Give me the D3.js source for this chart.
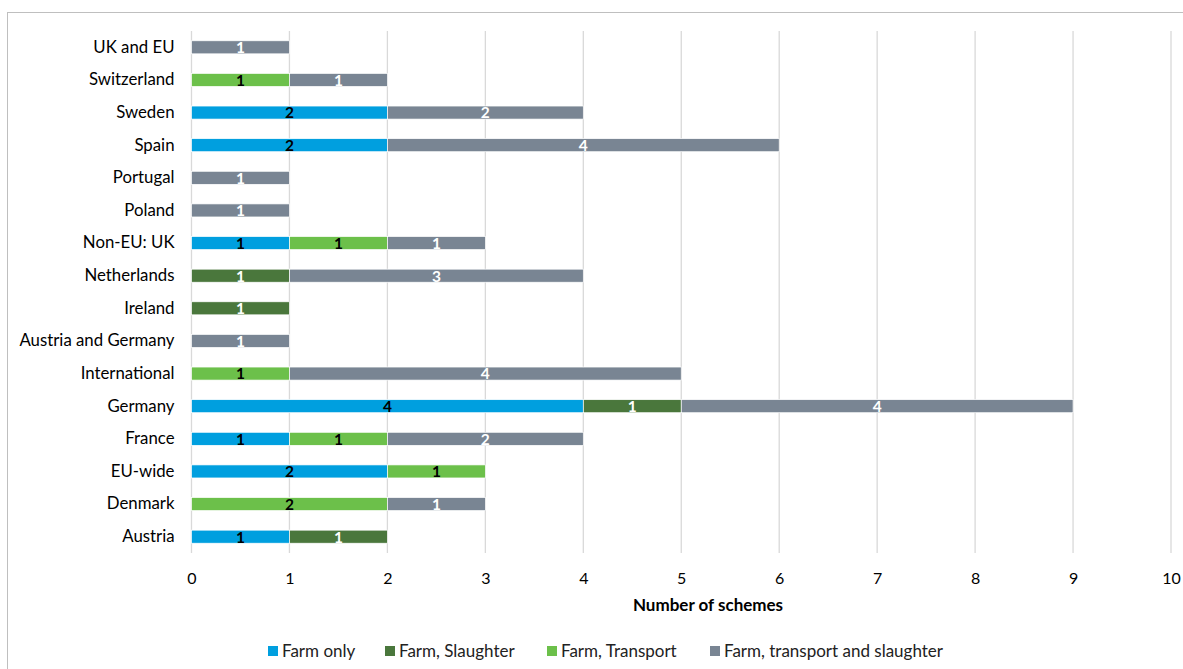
<!DOCTYPE html>
<html>
<head>
<meta charset="utf-8">
<script src="https://cdn.jsdelivr.net/npm/d3@7"></script>
<style>
  html, body { margin: 0; padding: 0; background: #fff; }
  svg { display: block; font-family: Lato, "Open Sans", sans-serif; }
</style>
</head>
<body>
<svg id="chart" width="1183" height="669"></svg>
<script>
// Categories, listed top to bottom as they appear on the chart
const countries = [
  "UK and EU", "Switzerland", "Sweden", "Spain", "Portugal", "Poland",
  "Non-EU: UK", "Netherlands", "Ireland", "Austria and Germany",
  "International", "Germany", "France", "EU-wide", "Denmark", "Austria"
];

const seriesNames = ["Farm only", "Farm, Slaughter", "Farm, Transport", "Farm, transport and slaughter"];

// Number of schemes per country for each series
const farmOnly        = [0, 0, 2, 2, 0, 0, 1, 0, 0, 0, 0, 4, 1, 2, 0, 1];
const farmSlaughter   = [0, 0, 0, 0, 0, 0, 0, 1, 1, 0, 0, 1, 0, 0, 0, 1];
const farmTransport   = [0, 1, 0, 0, 0, 0, 1, 0, 0, 0, 1, 0, 1, 1, 2, 0];
const farmTransSlaugh = [1, 1, 2, 4, 1, 1, 1, 3, 0, 1, 4, 4, 2, 0, 1, 0];

const xTicks = [0, 1, 2, 3, 4, 5, 6, 7, 8, 9, 10];

const colors = ["#009FDF", "#4A773C", "#6CC04A", "#798593"];
const labelColors = ["#000", "#fff", "#000", "#fff"];

const table = countries.map((c, i) => ({
  country: c,
  [seriesNames[0]]: farmOnly[i],
  [seriesNames[1]]: farmSlaughter[i],
  [seriesNames[2]]: farmTransport[i],
  [seriesNames[3]]: farmTransSlaugh[i]
}));

const svg = d3.select("#chart");

// outer chart frame
svg.append("rect")
  .attr("x", 7.5).attr("y", 12.5)
  .attr("width", 1190).attr("height", 680)
  .attr("fill", "none").attr("stroke", "#BFBFBF").attr("stroke-width", 1);

const plotLeft = 191.5, plotRight = 1171, plotTop = 31, plotBottom = 553;

const x = d3.scaleLinear().domain([0, 10]).range([plotLeft, plotRight]);
const y = d3.scaleBand().domain(countries).range([plotTop, plotBottom]).paddingInner(0.6).paddingOuter(0.3);

// vertical gridlines
svg.append("g")
  .selectAll("line")
  .data(xTicks)
  .join("line")
  .attr("x1", d => x(d)).attr("x2", d => x(d))
  .attr("y1", plotTop).attr("y2", plotBottom)
  .attr("stroke", "#D9D9D9").attr("stroke-width", 1.3);

// x axis tick labels
const xAxis = d3.axisBottom(x).tickValues(xTicks).tickSize(0).tickPadding(0);
const gx = svg.append("g").attr("transform", `translate(0, 578)`).call(xAxis);
gx.select(".domain").remove();
gx.selectAll("text")
  .attr("font-family", "Lato, sans-serif")
  .attr("font-size", 16).attr("fill", "#000")
  .attr("y", 0).attr("dy", "0.35em");

// y axis category labels
const yAxis = d3.axisLeft(y).tickSize(0).tickPadding(17);
const gy = svg.append("g").attr("transform", `translate(${plotLeft}, 0)`).call(yAxis);
gy.select(".domain").remove();
gy.selectAll("text")
  .attr("font-family", "Lato, sans-serif")
  .attr("font-size", 16.8).attr("fill", "#000");

// stacked bars
const stack = d3.stack().keys(seriesNames);
const stacked = stack(table);

const layers = svg.append("g")
  .selectAll("g")
  .data(stacked)
  .join("g")
  .attr("fill", (d, i) => colors[i]);

layers.selectAll("rect")
  .data(d => d.filter(s => s[1] - s[0] > 0))
  .join("rect")
  .attr("x", d => x(d[0]))
  .attr("y", d => y(d.data.country))
  .attr("width", d => x(d[1]) - x(d[0]))
  .attr("height", y.bandwidth())
  .attr("stroke", "#fff").attr("stroke-width", 0.7);

// value labels centred in each segment
layers.each(function(layer, i) {
  d3.select(this).selectAll("text")
    .data(layer.filter(s => s[1] - s[0] > 0))
    .join("text")
    .attr("x", d => x((d[0] + d[1]) / 2))
    .attr("y", d => y(d.data.country) + y.bandwidth() / 2)
    .attr("dy", "0.38em")
    .attr("text-anchor", "middle")
    .attr("font-family", "Lato, sans-serif")
    .attr("font-weight", "bold")
    .attr("font-size", 15.5)
    .attr("fill", labelColors[i])
    .text(d => d[1] - d[0]);
});

// axis title
svg.append("text")
  .attr("x", 708).attr("y", 605).attr("dy", "0.35em")
  .attr("text-anchor", "middle")
  .attr("font-family", "Lato, sans-serif")
  .attr("font-weight", "bold").attr("font-size", 17)
  .text("Number of schemes");

// legend
const legendX = [268, 385, 547, 710];
const legend = svg.append("g")
  .selectAll("g")
  .data(seriesNames)
  .join("g")
  .attr("transform", (d, i) => `translate(${legendX[i]}, 651)`);
legend.append("rect")
  .attr("x", 0).attr("y", -5).attr("width", 10).attr("height", 10)
  .attr("fill", (d, i) => colors[i]);
legend.append("text")
  .attr("x", 14).attr("y", 0).attr("dy", "0.35em")
  .attr("font-family", "Lato, sans-serif")
  .attr("font-size", 17).attr("fill", "#222")
  .text(d => d);
</script>
</body>
</html>
